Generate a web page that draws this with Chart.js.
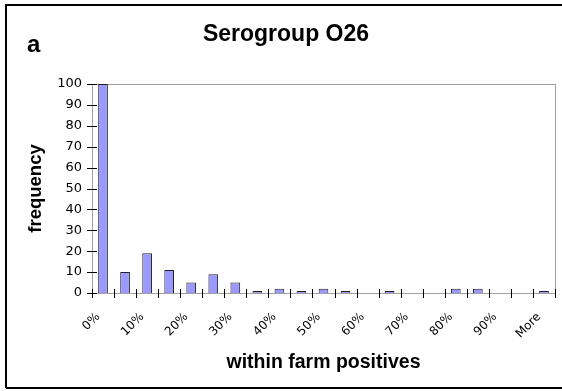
<!DOCTYPE html>
<html>
<head>
<meta charset="utf-8">
<script src="https://cdn.jsdelivr.net/npm/chart.js@4"></script>
<style>
  html, body { margin: 0; padding: 0; background: #fff; overflow: hidden; }
  #wrap { width: 562px; height: 391px; }
  canvas { display: block; }
</style>
</head>
<body>
<div id="wrap"><canvas id="hist" width="562" height="391"></canvas></div>
<script>
// bins of the histogram
var bins = ['0%', '5%', '10%', '15%', '20%', '25%', '30%', '35%', '40%', '45%',
            '50%', '55%', '60%', '65%', '70%', '75%', '80%', '85%', '90%', '95%', 'More'];
// frequency per bin (first bar runs off the top of the axis)
var counts = [100, 10, 19, 11, 5, 9, 5, 1, 2, 1,
              2, 1, 0, 1, 0, 0, 2, 2, 0, 0, 1];
var yTicks = [0, 10, 20, 30, 40, 50, 60, 70, 80, 90, 100];

var chartTitle = 'Serogroup O26';
var panelLetter = 'a';
var xTitle = 'within farm positives';
var yTitle = 'frequency';

// frame, titles and crossing tick marks
var decor = {
  id: 'decor',
  beforeDatasetsDraw: function(chart) {
    var ctx = chart.ctx, a = chart.chartArea;
    ctx.save();
    ctx.strokeStyle = '#a0a0a0';
    ctx.lineWidth = 1;
    ctx.strokeRect(a.left + 0.5, a.top + 0.5, a.right - a.left, a.bottom - a.top);
    ctx.restore();
  },
  afterDraw: function(chart) {
    var ctx = chart.ctx, a = chart.chartArea;
    var xs = chart.scales.x, ys = chart.scales.y;
    ctx.save();
    // outer frame (right side is off the picture)
    ctx.strokeStyle = '#000';
    ctx.lineWidth = 2;
    ctx.beginPath();
    ctx.moveTo(6, 388); ctx.lineTo(6, 5); ctx.lineTo(562, 5);
    ctx.moveTo(6, 388); ctx.lineTo(562, 388);
    ctx.stroke();

    // tick marks crossing the axes
    ctx.lineWidth = 1;
    ctx.beginPath();
    for (var i = 0; i <= bins.length; i++) {
      var px = Math.round(xs.getPixelForValue(i - 0.5)) + 0.5;
      ctx.moveTo(px, a.bottom - 4); ctx.lineTo(px, a.bottom + 5);
    }
    yTicks.forEach(function(v) {
      var py = Math.round(ys.getPixelForValue(v)) + 0.5;
      ctx.moveTo(a.left - 5, py); ctx.lineTo(a.left + 5, py);
    });
    ctx.stroke();

    ctx.fillStyle = '#000';
    ctx.textBaseline = 'alphabetic';
    ctx.textAlign = 'center';
    ctx.font = 'bold 23px "Liberation Sans", Arial, sans-serif';
    ctx.fillText(chartTitle, 286, 41);
    ctx.textAlign = 'left';
    ctx.font = 'bold 24px "Liberation Sans", Arial, sans-serif';
    ctx.fillText(panelLetter, 27, 52);

    ctx.font = 'bold 19.5px "Liberation Sans", Arial, sans-serif';
    ctx.textAlign = 'center';
    ctx.fillText(xTitle, (a.left + a.right) / 2, 368);
    ctx.font = 'bold 18.5px "Liberation Sans", Arial, sans-serif';
    ctx.translate(41, (a.top + a.bottom) / 2);
    ctx.rotate(-Math.PI / 2);
    ctx.fillText(yTitle, 0, 0);
    ctx.restore();
  }
};

var config = {
  type: 'bar',
  data: {
    labels: bins,
    datasets: [{
      data: counts,
      backgroundColor: '#9999ff',
      borderColor: '#202020',
      borderWidth: 1,
      barPercentage: 0.44,
      categoryPercentage: 1.0
    }]
  },
  options: {
    responsive: false,
    animation: false,
    layout: { padding: { left: 0, top: 84, right: 7, bottom: 0 } },
    plugins: {
      legend: { display: false },
      tooltip: { enabled: false }
    },
    scales: {
      x: {
        grid: { display: false, drawTicks: false },
        border: { display: true, color: '#000', width: 1 },
        afterFit: function(s) {
          s.height = 98;
          s.paddingLeft = 0; s.paddingRight = 0;
        },
        ticks: {
          autoSkip: false,
          maxRotation: 45,
          minRotation: 45,
          padding: 17,
          labelOffset: -5,
          color: '#000',
          font: { family: '"DejaVu Sans", sans-serif', size: 12 },
          callback: function(v, i) { return i % 2 === 0 ? bins[i] : ''; }
        }
      },
      y: {
        min: 0,
        max: 100,
        grid: { display: false, drawTicks: false },
        border: { display: true, color: '#000', width: 1 },
        afterFit: function(s) {
          s.width = 92;
          s.paddingTop = 0; s.paddingBottom = 0;
        },
        afterBuildTicks: function(s) { s.ticks = yTicks.map(function(v) { return { value: v }; }); },
        ticks: {
          padding: 10,
          color: '#000',
          font: { family: '"DejaVu Sans", sans-serif', size: 13 }
        }
      }
    }
  },
  plugins: [decor]
};

window.onload = function() {
  var ctx = document.getElementById('hist').getContext('2d');
  window.myHist = new Chart(ctx, config);
};
</script>
</body>
</html>
